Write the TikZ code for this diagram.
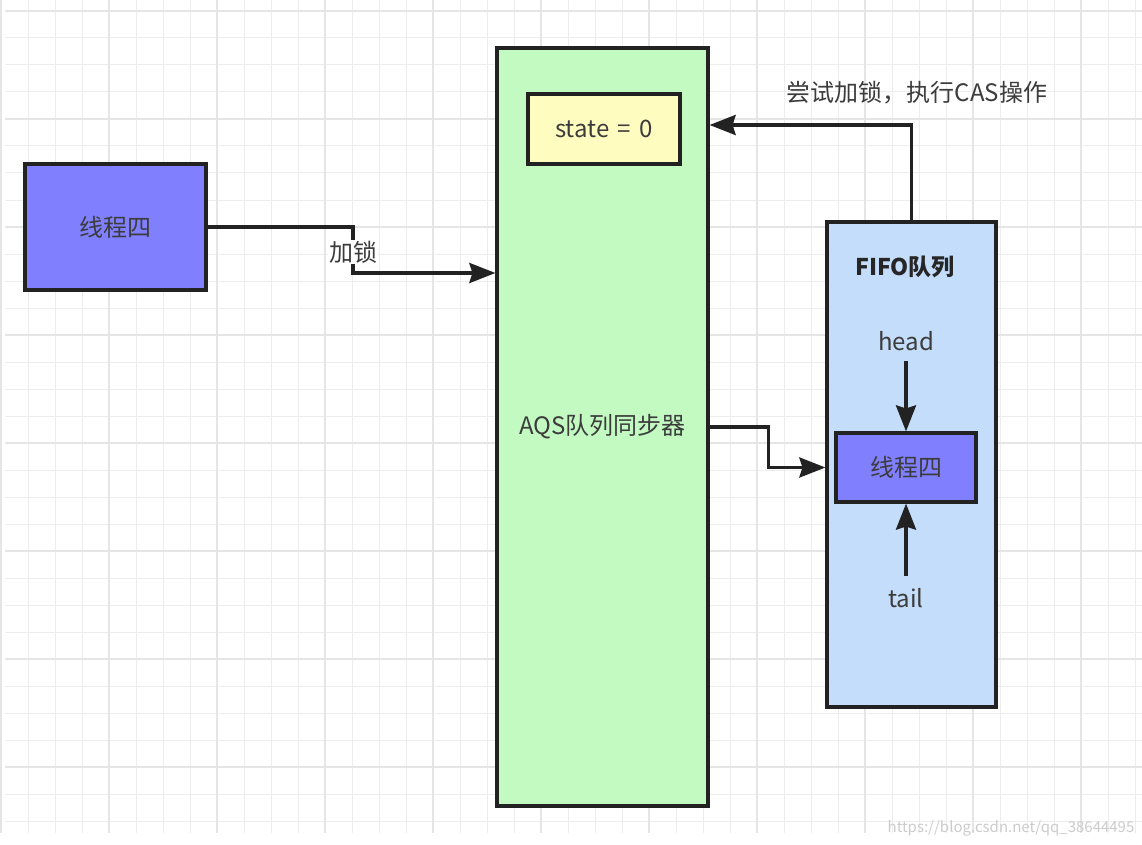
\documentclass[tikz,border=0pt]{standalone}
\usepackage{fontspec}
\setmainfont{Noto Sans CJK SC}
\usetikzlibrary{arrows.meta}
\definecolor{cthread}{HTML}{8080FF}
\definecolor{caqs}{HTML}{C2FAC2}
\definecolor{cstate}{HTML}{FFFCC0}
\definecolor{cfifo}{HTML}{C4DDFB}
\definecolor{ctext}{HTML}{3C3C3C}
\definecolor{cline}{HTML}{222222}

\begin{document}
\begin{tikzpicture}[x=1pt,y=-1pt,
  box/.style={draw=cline,line width=3.2pt,minimum width=#1,align=center,
    font=\fontsize{24}{28}\selectfont,text=ctext,inner sep=0pt},
  lbl/.style={font=\fontsize{24}{28}\selectfont,text=ctext,inner sep=1pt},
  conn/.style={draw=cline,line width=3.2pt},
  arr/.style={conn,-{Stealth[length=26pt,width=20pt,inset=3pt]}},
  gmin/.style={draw=black!7,line width=1pt},
  gmaj/.style={draw=black!10,line width=1.2pt}]
  \useasboundingbox (0,0) rectangle (1142,845);
  \fill[white] (0,0) rectangle (1142,845);
  \foreach \gx in {1,28,...,1135} \draw[gmin] (\gx,0) -- (\gx,833);
  \foreach \gy in {11,38,...,821} \draw[gmin] (5,\gy) -- (1142,\gy);
  \foreach \gx in {1,109,...,1081} \draw[gmaj] (\gx,0) -- (\gx,833);
  \foreach \gy in {11,119,...,767} \draw[gmaj] (5,\gy) -- (1142,\gy);

  \node[box=181pt,minimum height=126pt,fill=cthread] (t4) at (115.5,227) {线程四};
  \node[box=211pt,minimum height=758pt,fill=caqs] (aqs) at (602.5,427) {AQS队列同步器};
  \node[box=152pt,minimum height=70pt,fill=cstate] (st) at (604,129)
    {state\hspace{0.35em}=\hspace{0.35em}0};
  \node[box=169pt,minimum height=485pt,fill=cfifo] (fifo) at (911.5,464.5) {};
  \node[lbl,font=\fontsize{23}{27}\selectfont\bfseries,text=black!85] (ftl) at (905,267) {FIFO队列};
  \node[lbl] (hd) at (906,341) {head};
  \node[box=140pt,minimum height=69pt,fill=cthread] (q4) at (906,467.5) {线程四};
  \node[lbl] (tl) at (906,598) {tail};
  \node[lbl,fill=white] (lk) at (353,252) {加锁};
  \node[lbl] (cas) at (917,93) {尝试加锁，执行CAS操作};
  \node[font=\fontsize{15}{18}\selectfont,text=black!20] (wm) at (1011,828)
    {https://blog.csdn.net/qq\_38644495};

  \coordinate (lkin) at (353,273);
  \draw[conn] (t4.east) -| (lk.north);
  \draw[arr] (lk.south) -- (lkin) -- (lkin -| aqs.west);
  \draw[arr] (fifo.north) |- (aqs.east |- 0,125);
  \draw[arr] (aqs.east) -- ++(59,0) |- (fifo.west |- q4);
  \draw[arr,shorten <=9pt] (hd) -- (q4);
  \draw[arr,shorten <=11pt] (tl) -- (q4);
\end{tikzpicture}
\end{document}
